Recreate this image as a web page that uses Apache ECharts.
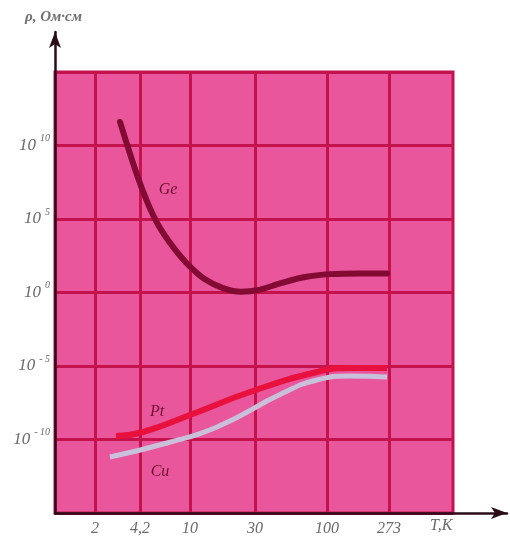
<!DOCTYPE html>
<html>
<head>
<meta charset="utf-8">
<script src="https://cdn.jsdelivr.net/npm/echarts@6/dist/echarts.min.js"></script>
<style>
  html, body { margin: 0; padding: 0; background: #fff; }
  #chart { width: 510px; height: 543px; }
</style>
</head>
<body>
<div id="chart"></div>
<script>
// x is position along the (hand drawn, non uniform) temperature scale, 0..398
var xTickPos = [40, 85, 135, 200, 272, 334];
var xTickLabels = ['2', '4,2', '10', '30', '100', '273'];
// y is log10 of resistivity (Ом·см)
var yTicks = [-10, -5, 0, 5, 10];

var geData = [[65, 11.6], [80, 8.4], [92, 6.2], [104, 4.5], [118, 3.1], [133, 1.9], [150, 0.9],
    [168, 0.3], [186, 0.05], [205, 0.2], [225, 0.62], [250, 1.05], [275, 1.25], [305, 1.3], [332, 1.3]];
var ptData = [[61, -9.76], [88, -9.49], [135, -8.33], [195, -6.77], [262, -5.41], [295, -5.14], [332, -5.14]];
var cuData = [[55, -11.19], [112, -10.24], [162, -9.15], [228, -6.84], [262, -5.95], [295, -5.68], [332, -5.75]];

var GRID_COLOR = '#c3124c';
var AXIS_COLOR = '#2b0d18';
var LABEL_FONT = 'Liberation Serif';

var chart = echarts.init(document.getElementById('chart'));

function curveLabel(text, coord) {
    return {
        symbol: 'circle',
        symbolSize: 0,
        silent: true,
        data: [{
            coord: coord,
            label: {
                show: true,
                position: 'inside',
                formatter: text,
                fontFamily: LABEL_FONT,
                fontStyle: 'italic',
                fontSize: 16,
                color: '#6e1230'
            }
        }]
    };
}

chart.setOption({
    animation: false,
    grid: [{
        left: 55, right: 57, top: 72, bottom: 30,
        show: true,
        backgroundColor: '#e9569c',
        borderColor: GRID_COLOR,
        borderWidth: 3
    }, {
        left: 55, right: 3, top: 32, bottom: 30
    }],
    xAxis: [{
        type: 'value',
        min: 0,
        max: 398,
        axisLine: { show: false },
        axisTick: { show: false, customValues: xTickPos },
        splitLine: { show: true, lineStyle: { color: GRID_COLOR, width: 3 } },
        axisLabel: {
            customValues: xTickPos,
            margin: 8,
            fontFamily: LABEL_FONT,
            fontStyle: 'italic',
            fontSize: 16,
            color: '#6a6a6a',
            formatter: function(v) {
                var i = xTickPos.indexOf(v);
                return i < 0 ? '' : xTickLabels[i];
            }
        }
    }, {
        gridIndex: 1,
        type: 'value',
        min: 0,
        max: 1,
        axisLine: {
            show: true,
            symbol: ['none', 'arrow'],
            symbolSize: [9, 16],
            lineStyle: { color: AXIS_COLOR, width: 2.5 }
        },
        axisTick: { show: false },
        axisLabel: { show: false },
        splitLine: { show: false }
    }],
    yAxis: [{
        type: 'value',
        min: -15,
        max: 15,
        interval: 5,
        axisLine: { show: false },
        axisTick: { show: false },
        splitLine: { show: true, lineStyle: { color: GRID_COLOR, width: 3 } },
        axisLabel: {
            margin: 5,
            formatter: function(v) {
                if (yTicks.indexOf(v) < 0) return '';
                return '{b|10}{s|' + (v < 0 ? '- ' : '') + Math.abs(v) + '}';
            },
            rich: {
                b: { fontFamily: LABEL_FONT, fontStyle: 'italic', fontSize: 17, color: '#6a6a6a', padding: [0, 4, 0, 0] },
                s: { fontFamily: LABEL_FONT, fontStyle: 'italic', fontSize: 10, color: '#6a6a6a', padding: [0, 0, 14, 0] }
            }
        }
    }, {
        gridIndex: 1,
        type: 'value',
        min: 0,
        max: 1,
        axisLine: {
            show: true,
            symbol: ['none', 'arrow'],
            symbolSize: [9, 16],
            lineStyle: { color: AXIS_COLOR, width: 2.5 }
        },
        axisTick: { show: false },
        axisLabel: { show: false },
        splitLine: { show: false }
    }],
    graphic: [{
        type: 'text',
        left: 25,
        top: 10,
        style: {
            text: 'ρ, Ом·см',
            font: 'italic bold 15px "Liberation Serif"',
            fill: '#707070'
        }
    }, {
        type: 'text',
        left: 430,
        top: 518,
        style: {
            text: 'T,K',
            font: 'italic 16px "Liberation Serif"',
            fill: '#6a6a6a'
        }
    }],
    series: [{
        name: 'Ge',
        type: 'line',
        smooth: 0.3,
        showSymbol: false,
        data: geData,
        lineStyle: { color: '#830a33', width: 6, cap: 'round' },
        markPoint: curveLabel('Ge', [113, 6.97])
    }, {
        name: 'Pt',
        type: 'line',
        smooth: 0.5,
        showSymbol: false,
        data: ptData,
        lineStyle: { color: '#e8103c', width: 6 },
        markPoint: curveLabel('Pt', [102, -8.13])
    }, {
        name: 'Cu',
        type: 'line',
        smooth: 0.5,
        showSymbol: false,
        data: cuData,
        lineStyle: { color: '#c9c1d9', width: 5 },
        markPoint: curveLabel('Cu', [105, -12.2])
    }]
});
</script>
</body>
</html>
